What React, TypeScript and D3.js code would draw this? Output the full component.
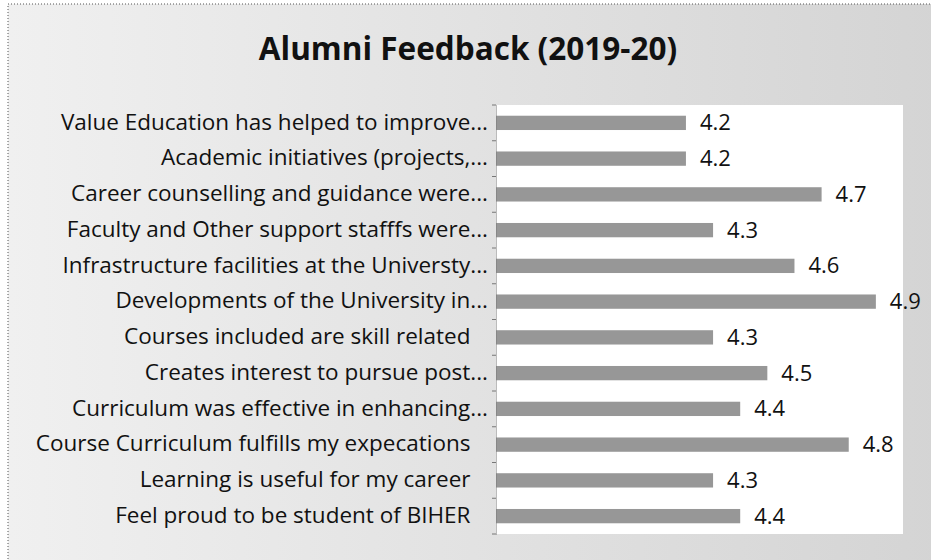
import React, { useEffect, useRef } from "react";
import * as d3 from "d3";

const title = "Alumni Feedback (2019-20)";
const categories = [
  "Value Education has helped to improve...",
  "Academic initiatives (projects,...",
  "Career counselling and guidance were...",
  "Faculty and Other support stafffs were...",
  "Infrastructure facilities at the Universty...",
  "Developments of the University in...",
  "Courses included are skill related   ",
  "Creates interest to pursue post...",
  "Curriculum was effective in enhancing...",
  "Course Curriculum fulfills my expecations   ",
  "Learning is useful for my career   ",
  "Feel proud to be student of BIHER   ",
];
const values = [4.2, 4.2, 4.7, 4.3, 4.6, 4.9, 4.3, 4.5, 4.4, 4.8, 4.3, 4.4];
const axisDomain = [3.5, 5];

const W = 931;
const H = 560;
const FONT = "'Open Sans', Lato, sans-serif";

export default function App() {
  const ref = useRef<SVGSVGElement>(null);
  useEffect(() => {
    const svg = d3.select(ref.current);
    svg.selectAll("*").remove();

    const defs = svg.append("defs");
    const grad = defs.append("linearGradient").attr("id", "bg").attr("x1", "0").attr("x2", "1").attr("y1", "0").attr("y2", "0");
    grad.append("stop").attr("offset", "0").attr("stop-color", "#f0f0f0");
    grad.append("stop").attr("offset", "1").attr("stop-color", "#d4d4d4");

    svg.append("rect").attr("x", 8).attr("y", 4).attr("width", W).attr("height", H).attr("fill", "url(#bg)")
      .attr("stroke", "#555").attr("stroke-dasharray", "1,2");

    const plot = { left: 496, right: 903, top: 105, bottom: 534 };
    svg.append("rect").attr("x", plot.left).attr("y", plot.top)
      .attr("width", plot.right - plot.left).attr("height", plot.bottom - plot.top).attr("fill", "#ffffff");

    const x = d3.scaleLinear().domain(axisDomain).range([plot.left, plot.right]);
    const y = d3.scaleBand().domain(categories).range([plot.top, plot.bottom]).paddingInner(0.6).paddingOuter(0.3);
    const yb = d3.scaleBand().domain(categories).range([plot.top, plot.bottom]);

    svg.append("text").attr("x", 468).attr("y", 60).attr("text-anchor", "middle")
      .attr("font-family", FONT).attr("font-weight", "bold").attr("font-size", 31.5).attr("fill", "#111").text(title);

    svg.selectAll("rect.bar").data(values).enter().append("rect").attr("class", "bar")
      .attr("x", x(axisDomain[0]))
      .attr("y", (_d, i) => y(categories[i])!)
      .attr("height", y.bandwidth())
      .attr("width", (d) => x(d) - x(axisDomain[0]))
      .attr("fill", "#979797");

    svg.selectAll("text.val").data(values).enter().append("text").attr("class", "val")
      .attr("x", (d) => x(d) + 14)
      .attr("y", (_d, i) => y(categories[i])! + y.bandwidth() / 2)
      .attr("dy", "0.34em")
      .attr("font-family", FONT).attr("font-size", 22).attr("fill", "#111")
      .text((d) => d.toFixed(1));

    const axis = svg.append("g").attr("transform", `translate(${plot.left},0)`)
      .call(d3.axisLeft(yb).tickSize(0).tickPadding(8));
    axis.select(".domain").attr("stroke", "#777").attr("stroke-dasharray", "1,1");
    axis.selectAll(".tick text").attr("font-family", FONT).attr("font-size", 22.5).attr("fill", "#111")
      .attr("dy", "0.3em")
      .style("white-space", "pre");
    const ticks = svg.append("g");
    const bounds = categories.map((c) => yb(c)!).concat([plot.bottom]);
    ticks.selectAll("line").data(bounds).enter().append("line")
      .attr("x1", plot.left - 4).attr("x2", plot.left)
      .attr("y1", (d) => d).attr("y2", (d) => d)
      .attr("stroke", "#777");
  }, []);
  return (
    <svg ref={ref} width={W} height={H} style={{ position: "absolute", left: 0, top: 0, background: "#fff" }} />
  );
}
